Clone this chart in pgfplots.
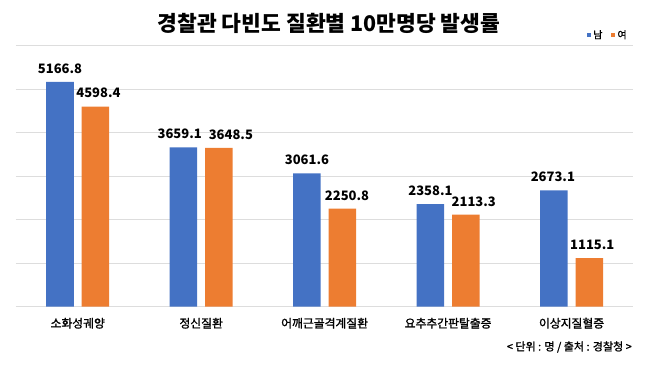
\documentclass[border=0pt]{standalone}
\usepackage{fontspec}
\setmainfont{Noto Sans CJK KR}
\newfontfamily\medfont[FakeBold=1.4]{Noto Sans CJK KR}
\usepackage{pgfplots}
\usepackage{pgfplotstable}
\pgfplotsset{compat=1.18}
\definecolor{cblue}{HTML}{4472C4}
\definecolor{corange}{HTML}{ED7D31}
\definecolor{cgrid}{HTML}{DDDDDD}
\pgfplotstableread{
x y lab dx
0 5166.8 5166.8 -17.7
1 3659.1 3659.1 -21.5
2 3061.6 3061.6 -17.7
3 2358.1 2358.1 -17.7
4 2673.1 2673.1 -18.7
}\male
\pgfplotstableread{
x y lab dx
0 4598.4 4598.4 20.7
1 3648.5 3648.5 29.7
2 2250.8 2250.8 22.4
3 2113.3 2113.3 25.7
4 1115.1 1115.1 20.7
}\female
\begin{document}
\begin{tikzpicture}
\useasboundingbox (0,0) rectangle (649pt,365pt);
\begin{axis}[
  at={(16pt,58.3pt)}, anchor=south west,
  width=617.3pt, height=261.2pt, scale only axis,
  xmin=-0.5, xmax=4.5, ymin=0, ymax=6000,
  ytick={0,1000,2000,3000,4000,5000,6000}, yticklabels={},
  ymajorgrids, grid style={cgrid, line width=0.9pt},
  xtick={0,1,2,3,4},
  xticklabels={소화성궤양,정신질환,어깨근골격계질환,요추추간판탈출증,이상지질혈증},
  xticklabel style={font=\medfont\fontsize{11.8}{14}\selectfont, anchor=base, yshift=-21pt},
  major tick length=0pt, tick style={draw=none},
  axis line style={draw=none},
  clip=false,
  legend columns=2,
  legend style={draw=none, fill=none, at={(axis description cs:0.959,1.040)}, anchor=center,
    font=\medfont\fontsize{10}{12}\selectfont, inner sep=0pt,
    /tikz/every even column/.append style={column sep=7pt}},
  legend image code/.code={\fill[#1] (0pt,-2pt) rectangle (4pt,2pt);},
  every node near coord/.append style={font=\fontsize{13}{15}\selectfont\bfseries, anchor=base, inner sep=0pt, yshift=8.7pt, black},
]
\addplot[ybar, fill=cblue, draw=none, bar width=0.223, bar shift=-0.1436,
  nodes near coords, point meta=explicit symbolic,
  visualization depends on={\thisrow{dx} \as \labeldx},
  every node near coord/.append style={xshift=\labeldx pt}]
  table[x=x, y=y, meta=lab] {\male};
\addlegendentry{남}
\addplot[ybar, fill=corange, draw=none, bar width=0.223, bar shift=0.1436,
  nodes near coords, point meta=explicit symbolic,
  visualization depends on={\thisrow{dx} \as \labeldx},
  every node near coord/.append style={xshift=\labeldx pt}]
  table[x=x, y=y, meta=lab] {\female};
\addlegendentry{여}
\end{axis}
\node[font=\fontsize{21.5}{25}\selectfont\bfseries, anchor=center, inner sep=0pt] at (329pt,341.5pt) {경찰관 다빈도 질환별 10만명당 발생률};
\node[font=\medfont\fontsize{11}{13}\selectfont, anchor=east, inner sep=0pt] at (632pt,18pt) {< 단위 : 명 / 출처 : 경찰청 >};
\end{tikzpicture}
\end{document}
